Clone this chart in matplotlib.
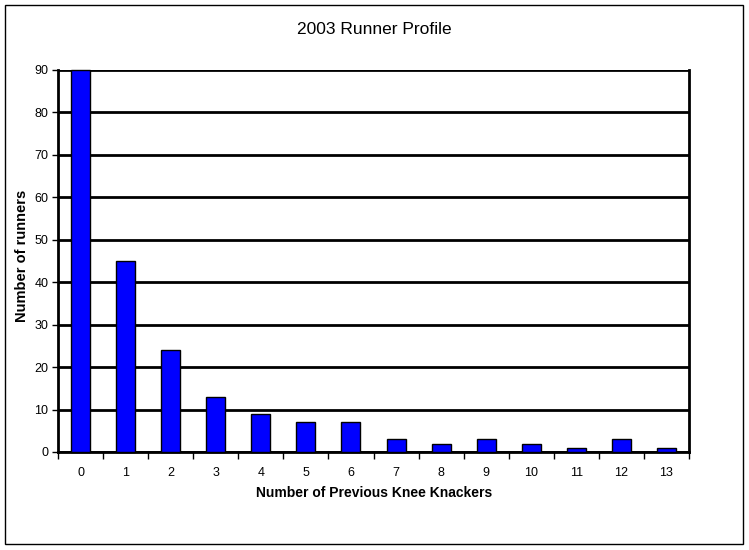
import numpy as np
import matplotlib.pyplot as plt
from matplotlib.patches import Rectangle

plt.rcParams['font.family'] = ['Liberation Sans', 'DejaVu Sans']

knackers = list(range(14))
runners = [90, 45, 24, 13, 9, 7, 7, 3, 2, 3, 2, 1, 3, 1]

fig = plt.figure(figsize=(7.49, 5.5), dpi=100)
ax = fig.add_axes([58/749, 98/550, 631/749, 382/550])

x = np.arange(len(knackers))
ax.bar(x, runners, width=0.42, color='#0000ff', edgecolor='black', linewidth=1,
       zorder=3, clip_on=False)

ax.set_xlim(-0.5, len(knackers) - 0.5)
ax.set_ylim(0, 90)
ax.set_yticks(np.arange(0, 91, 10))
ax.yaxis.grid(True, color='black', linewidth=2, zorder=0)
ax.tick_params(axis='y', direction='out', length=4, width=1, labelsize=9, pad=3)

# ticks at category boundaries, labels centred under bars
ax.set_xticks(np.arange(-0.5, len(knackers)), [''] * (len(knackers) + 1))
ax.set_xticks(x, [str(k) for k in knackers], minor=True)
ax.tick_params(axis='x', which='major', direction='out', length=5, width=1)
ax.tick_params(axis='x', which='minor', length=0, labelsize=9, pad=11)

for side in ['left', 'bottom', 'right']:
    ax.spines[side].set_linewidth(2)
ax.spines['top'].set_visible(False)

fig.text(374/749, 1 - 30/550, '2003 Runner Profile', ha='center', va='center', fontsize=12.5)
fig.text(374/749, 1 - 493/550, 'Number of Previous Knee Knackers', ha='center', va='center',
         fontsize=10, fontweight='bold')
fig.text(22/749, 1 - 256/550, 'Number of runners', ha='center', va='center', rotation=90,
         fontsize=10.5, fontweight='bold')

fig.patches.append(Rectangle((5/749, 6/550), 738/749, 539/550, transform=fig.transFigure,
                             fill=False, edgecolor='black', linewidth=1))

fig.savefig('out.png', dpi=100)
